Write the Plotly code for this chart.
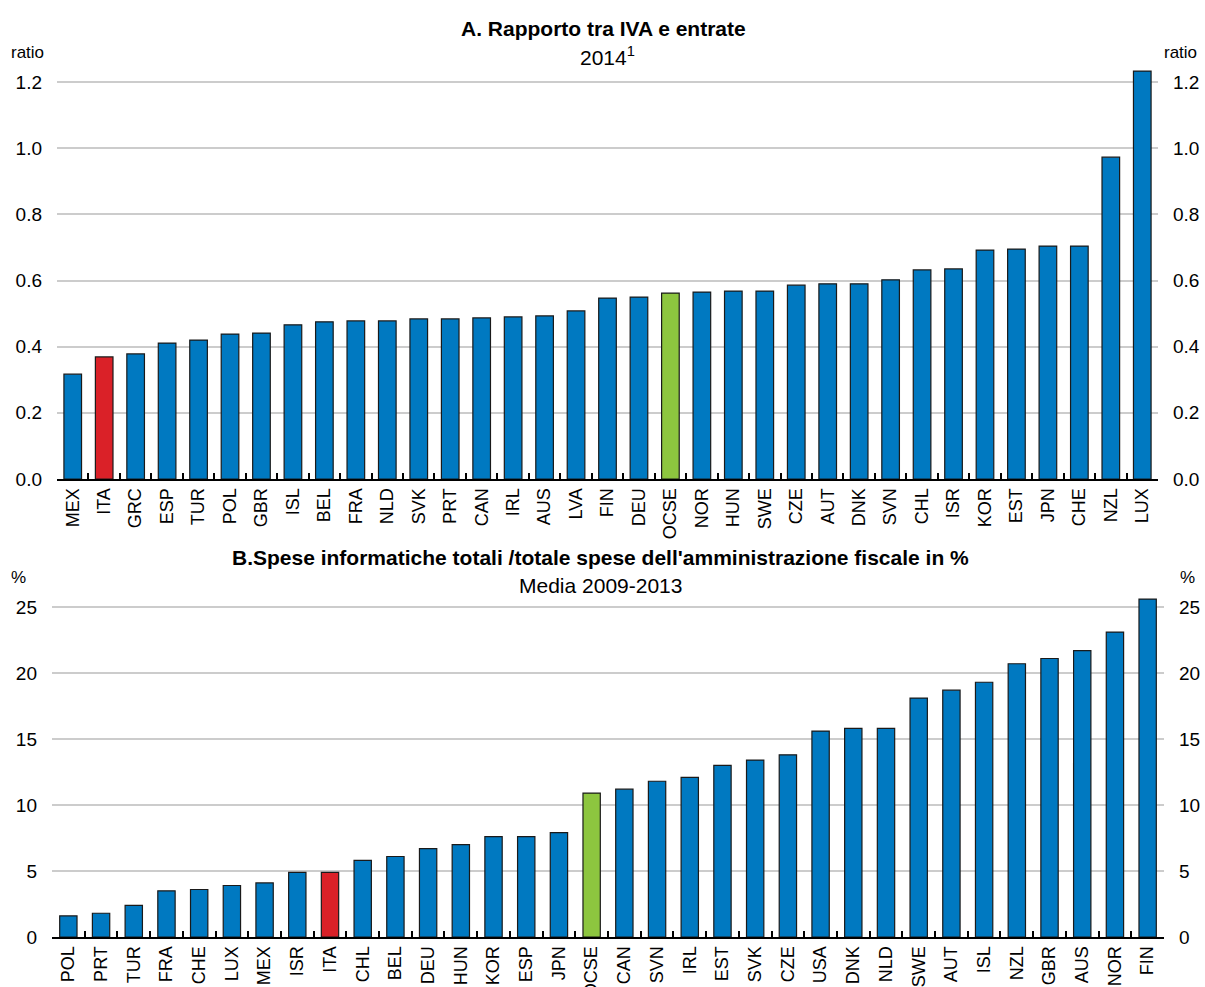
import plotly.graph_objects as go

# Panel A: VAT revenue ratio, 2014
a_countries = ['MEX', 'ITA', 'GRC', 'ESP', 'TUR', 'POL', 'GBR', 'ISL', 'BEL', 'FRA', 'NLD', 'SVK',
               'PRT', 'CAN', 'IRL', 'AUS', 'LVA', 'FIN', 'DEU', 'OCSE', 'NOR', 'HUN', 'SWE', 'CZE',
               'AUT', 'DNK', 'SVN', 'CHL', 'ISR', 'KOR', 'EST', 'JPN', 'CHE', 'NZL', 'LUX']
a_values = [0.317, 0.369, 0.378, 0.411, 0.42, 0.438, 0.441, 0.466, 0.475, 0.478, 0.478, 0.484,
            0.484, 0.487, 0.49, 0.493, 0.508, 0.547, 0.55, 0.562, 0.565, 0.568, 0.568, 0.586,
            0.59, 0.59, 0.602, 0.632, 0.635, 0.692, 0.695, 0.704, 0.704, 0.973, 1.233]

# Panel B: IT spending / total tax administration spending, %, avg 2009-2013
b_countries = ['POL', 'PRT', 'TUR', 'FRA', 'CHE', 'LUX', 'MEX', 'ISR', 'ITA', 'CHL', 'BEL', 'DEU',
               'HUN', 'KOR', 'ESP', 'JPN', 'OCSE', 'CAN', 'SVN', 'IRL', 'EST', 'SVK', 'CZE', 'USA',
               'DNK', 'NLD', 'SWE', 'AUT', 'ISL', 'NZL', 'GBR', 'AUS', 'NOR', 'FIN']
b_values = [1.6, 1.8, 2.4, 3.5, 3.6, 3.9, 4.1, 4.9, 4.9, 5.8, 6.1, 6.7,
            7.0, 7.6, 7.6, 7.9, 10.9, 11.2, 11.8, 12.1, 13.0, 13.4, 13.8, 15.6,
            15.8, 15.8, 18.1, 18.7, 19.3, 20.7, 21.1, 21.7, 23.1, 25.6]

a_ticks = [0.0, 0.2, 0.4, 0.6, 0.8, 1.0, 1.2]
b_ticks = [0, 5, 10, 15, 20, 25]

BLUE = '#0079C1'
RED = '#DA2128'
GREEN = '#8DC63F'


def bar_colors(cats):
    return [RED if c == 'ITA' else GREEN if c == 'OCSE' else BLUE for c in cats]


FONT = 'Liberation Sans, Arial'

fig = go.Figure()

fig.add_trace(go.Bar(x=a_countries, y=a_values, marker_color=bar_colors(a_countries),
                     marker_line=dict(color='#1a1a1a', width=1.2), width=0.56,
                     xaxis='x', yaxis='y', showlegend=False))
fig.add_trace(go.Scatter(x=a_countries, y=a_values, mode='markers', marker=dict(opacity=0),
                         hoverinfo='skip', xaxis='x', yaxis='y2', showlegend=False))
fig.add_trace(go.Bar(x=b_countries, y=b_values, marker_color=bar_colors(b_countries),
                     marker_line=dict(color='#1a1a1a', width=1.2), width=0.53,
                     xaxis='x2', yaxis='y3', showlegend=False))
fig.add_trace(go.Scatter(x=b_countries, y=b_values, mode='markers', marker=dict(opacity=0),
                         hoverinfo='skip', xaxis='x2', yaxis='y4', showlegend=False))

W, H = 1205, 987
L, R, T, B = 52, 41, 20, 50
PW, PH = W - L - R, H - T - B


def py(p):
    # pixel row -> paper y
    return (H - B - p) / PH


def px(p):
    return (p - L) / PW


xcommon = dict(type='category', showline=True, linecolor='black', linewidth=2, automargin=False,
               ticks='inside', tickson='boundaries', ticklen=6, tickcolor='black', tickwidth=1.5,
               tickangle=-90, tickfont=dict(family=FONT, size=18, color='black'), showgrid=False)
ycommon = dict(showgrid=True, gridcolor='#CCCCCC', gridwidth=2, zeroline=False, showline=False,
               automargin=False, ticks='', tickfont=dict(family=FONT, size=19, color='black'),
               ticklabelstandoff=14)

a_dom = [py(479), py(479 - 1.25 * 330.8)]
b_dom = [0, py(937 - 26 * 13.2)]

fig.update_layout(
    width=W, height=H,
    margin=dict(l=L, r=R, t=T, b=B),
    plot_bgcolor='white', paper_bgcolor='white',
    xaxis=dict(xcommon, domain=[px(57), px(1158)], anchor='y',
               range=[-0.5, len(a_countries) - 0.5]),
    yaxis=dict(ycommon, domain=a_dom, range=[0, 1.25], tickvals=a_ticks, tickformat='.1f', anchor='x'),
    yaxis2=dict(ycommon, range=[0, 1.25], tickvals=a_ticks, tickformat='.1f', overlaying='y',
                side='right', showgrid=False, anchor='x'),
    xaxis2=dict(xcommon, domain=[0, 1], anchor='y3',
                range=[-0.5, len(b_countries) - 0.5]),
    yaxis3=dict(ycommon, domain=b_dom, range=[0, 26], tickvals=b_ticks, anchor='x2'),
    yaxis4=dict(ycommon, range=[0, 26], tickvals=b_ticks, overlaying='y3',
                side='right', showgrid=False, anchor='x2'),
)

title_font = dict(family=FONT, size=21, color='black')
sub_font = dict(family=FONT, size=21, color='black')
unit_font = dict(family=FONT, size=17, color='black')

annotations = [
    dict(text='<b>A. Rapporto tra IVA e entrate</b>', x=603, y=28, font=title_font),
    dict(text='2014<sup>1</sup>', x=607, y=56, font=sub_font),
    dict(text="<b>B.Spese informatiche totali /totale spese dell'amministrazione fiscale in %</b>",
         x=600, y=557, font=title_font),
    dict(text='Media 2009-2013', x=600, y=585, font=sub_font),
    dict(text='ratio', x=27, y=52, font=unit_font),
    dict(text='ratio', x=1180, y=52, font=unit_font),
    dict(text='%', x=18, y=577, font=unit_font),
    dict(text='%', x=1187, y=577, font=unit_font),
]
for a in annotations:
    fig.add_annotation(text=a['text'], xref='paper', yref='paper',
                       x=px(a['x']), y=py(a['y']),
                       xanchor='center', yanchor='middle', showarrow=False, font=a['font'])

fig.write_html("out.html", config={'displayModeBar': False},
               post_script="document.body.style.margin='0';")
